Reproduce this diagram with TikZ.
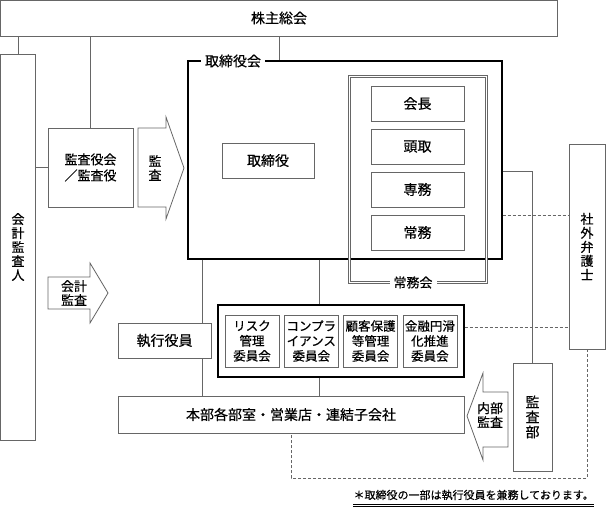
\documentclass[tikz,border=0pt]{standalone}
\usepackage{fontspec}
\setmainfont{Noto Sans CJK JP}[FakeBold=0.5]
\usetikzlibrary{positioning}
\definecolor{linegray}{gray}{0.4}
\tikzset{box/.style={rectangle,draw=linegray,fill=white,line width=0.8pt,inner sep=0pt,align=center,font=\fontsize{14}{16}\selectfont}}
\tikzset{yakuin/.style={box,minimum width=93pt,minimum height=35pt}}
\tikzset{iin/.style={box,minimum width=54pt,minimum height=52pt,font=\fontsize{12.5}{15}\selectfont}}
\tikzset{frame/.style={rectangle,draw=black,line width=1.3pt,inner sep=0pt}}
\tikzset{conn/.style={draw=linegray,line width=0.8pt}}
\tikzset{dashconn/.style={draw=linegray,line width=0.7pt,dash pattern=on 3pt off 2pt}}
\tikzset{bigArrow/.style={draw=linegray,line width=0.8pt,fill=white}}
\tikzset{tate/.style={align=center,inner sep=0pt,font=\fontsize{13}{14}\selectfont}}

\begin{document}
\begin{tikzpicture}[x=1pt,y=-1pt]
\useasboundingbox (0,0) rectangle (606,508);
% frames
\node (board) [frame, minimum width=314pt, minimum height=198pt] at (345,160) {};
\node (blabel) [fill=white, inner xsep=4pt, inner ysep=0pt, font=\fontsize{14}{16}\selectfont] at (233,61) {取締役会};
\node (joumukai) [draw=linegray, double, double distance=1.6pt, line width=0.6pt, minimum width=137pt, minimum height=206pt] at (418,179.5) {};
\node (jlabel) [fill=white, inner xsep=4pt, inner ysep=1pt, font=\fontsize{13}{15}\selectfont] at (413,282.5) {常務会};
\node (iinkai) [frame, minimum width=246pt, minimum height=72pt] at (341,341) {};

% boxes
\node (soukai) [box, minimum width=557pt, minimum height=36pt] at (279,18) {株主総会};
\node (kaikei) [box, tate, minimum width=35pt, minimum height=386pt] at (18,247) {会\\計\\監\\査\\人};
\node (kansayaku) [box, font=\fontsize{13}{16}\selectfont, minimum width=85pt, minimum height=79pt] at (90.5,167.5) {監査役会\\／監査役};
\node (torishimari) [box, minimum width=92pt, minimum height=35pt] at (268,160.5) {取締役};
\node (kaichou) [yakuin] at (417.5,103.5) {会長};
\node (toudori) [yakuin, below=7.2pt of kaichou] {頭取};
\node (senmu) [yakuin, below=7.2pt of toudori] {専務};
\node (joumu) [yakuin, below=7.2pt of senmu] {常務};
\node (bengoshi) [box, tate, minimum width=36pt, minimum height=205pt] at (587,246.5) {社\\外\\弁\\護\\士};
\node (shikkou) [yakuin] at (164.5,340.5) {執行役員};
\node (risk) [iin] at (252,341) {リスク\\管理\\委員会};
\node (comp) [iin, right=4.5pt of risk] {コンプラ\\イアンス\\委員会};
\node (kokyaku) [iin, right=4.5pt of comp] {顧客保護\\等管理\\委員会};
\node (kinyu) [iin, right=4.5pt of kokyaku] {金融円滑\\化推進\\委員会};
\node (honbu) [box, minimum width=346pt, minimum height=37pt] at (291,414.5) {本部各部室・営業店・連結子会社};
\node (kansabu) [box, tate, font=\fontsize{14}{15}\selectfont, minimum width=39pt, minimum height=108pt] at (532.5,417) {監\\査\\部};

% big arrows
\draw[bigArrow] (138,128) -- (166,128) -- (166,117) -- (184,168) -- (166,219) -- (166,207) -- (138,207) -- cycle;
\node (kansaArrow) [tate] at (155,168) {監\\査};
\draw[bigArrow] (48,277) -- (90,277) -- (90,263) -- (108,293) -- (90,323) -- (90,309) -- (48,309) -- cycle;
\node (kaikeiArrow) [tate] at (74,293) {会計\\監査};
\draw[bigArrow] (508,392) -- (483,392) -- (483,373) -- (467,416) -- (483,460) -- (483,447) -- (508,447) -- cycle;
\node (naibuArrow) [tate] at (490,415) {内部\\監査};

% connectors
\coordinate (sx) at (202,0);
\coordinate (ix) at (319,0);
\draw[conn] (kaikei.north) -- (kaikei.north |- soukai.south);
\draw[conn] (kansayaku.north) -- (kansayaku.north |- soukai.south);
\draw[conn] (soukai.south) -- (soukai.south |- board.north);
\draw[conn] (kansayaku.west) -- (kansayaku.west -| kaikei.east);
\draw[conn] ([yshift=-11pt]board.east) -| (kansabu.north);
\draw[conn] (sx |- board.south) -- (sx |- shikkou.north);
\draw[conn] (sx |- shikkou.south) -- (sx |- honbu.north);
\draw[conn] (ix |- board.south) -- (ix |- iinkai.north);
\draw[conn] (ix |- iinkai.south) -- (ix |- honbu.north);
\coordinate (bd) at ([yshift=-55pt]board.east);
\draw[dashconn] (bd) -- (bd -| bengoshi.west);
\coordinate (id) at ([yshift=14pt]iinkai.east);
\draw[dashconn] (id) -- (id -| bengoshi.west);
\draw[dashconn] (bengoshi.south) |- ([yshift=-45pt]honbu.south) -- (honbu.south);

% note
\node (note) [anchor=east, inner sep=0pt, font=\fontsize{11}{13}\selectfont] at (594,495) {＊取締役の一部は執行役員を兼務しております。};
\draw[double, double distance=1.2pt, line width=0.6pt] ([yshift=-5pt]note.south west) -- ([yshift=-5pt]note.south east);
\end{tikzpicture}
\end{document}
